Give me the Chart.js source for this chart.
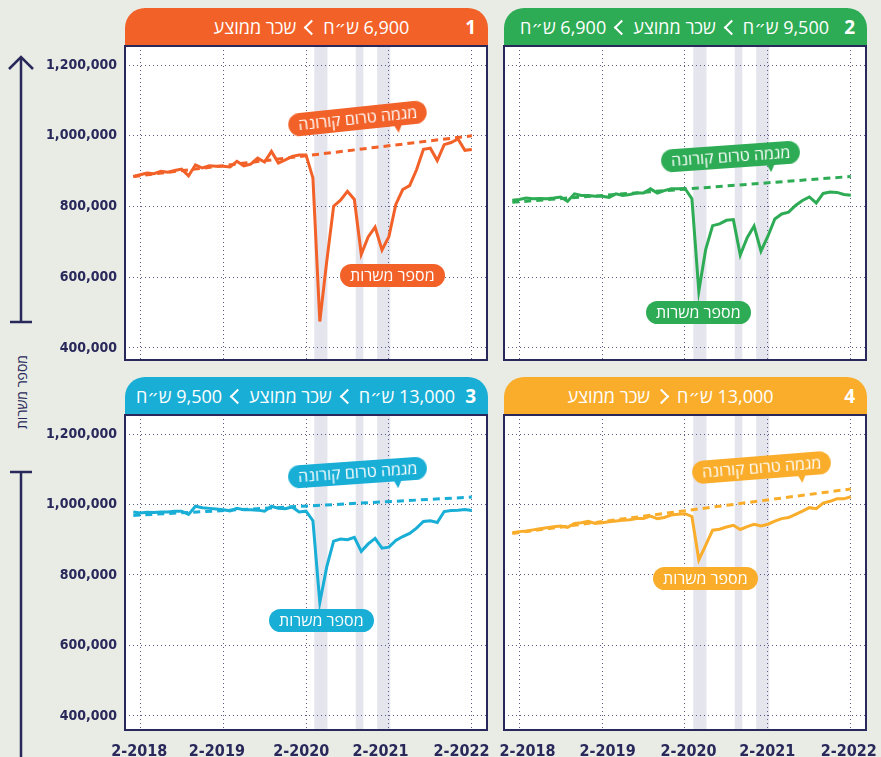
<!DOCTYPE html>
<html lang="he">
<head>
<meta charset="UTF-8">
<title>מספר משרות לפי שכר ממוצע</title>
<script src="https://cdn.jsdelivr.net/npm/chart.js"></script>
<style>
    body { margin: 0; background: #e9ebe5; font-family: "Open Sans", "DejaVu Sans", sans-serif; overflow: hidden; }
    #page { position: relative; width: 881px; height: 757px; }
    canvas { position: absolute; }
    .head { position: absolute; height: 38px; color: #fff; border-radius: 20px 20px 0 0; box-sizing: border-box;
            display: flex; align-items: center; justify-content: center; font-size: 18px; white-space: nowrap; }
    .head .num { position: absolute; right: 12px; font-weight: bold; font-size: 19px; }
    .head span { margin: 0 2px; }
    .chev { display: inline-block; width: 9px; height: 9px; border-left: 2.5px solid #fff; border-bottom: 2.5px solid #fff;
            transform: rotate(45deg); margin: 0 4px 0 8px; }
    .chev.r { transform: rotate(-135deg); margin: 0 8px 0 4px; }
    .pill { position: absolute; color: #fff; font-size: 16px; border-radius: 12px; padding: 0 10px; height: 23px;
            line-height: 23px; white-space: nowrap; }
    .pill.tip::after { content: ""; position: absolute; right: 26px; bottom: -7px; border-left: 4px solid transparent;
            border-right: 4px solid transparent; border-top: 8px solid var(--c); }
    .vlabel { position: absolute; left: 21px; top: 392px; transform: translate(-50%, -50%) rotate(-90deg);
              color: #28285a; font-size: 14px; white-space: nowrap; }
</style>
</head>
<body>
<div id="page">
    <svg style="position:absolute;left:0;top:0" width="45" height="757">
        <g stroke="#28285a" stroke-width="2.5" fill="none">
            <polyline points="9,69 21,57 33,69"/>
            <line x1="21" y1="57" x2="21" y2="322"/>
            <line x1="10" y1="322" x2="32" y2="322"/>
            <line x1="10" y1="472" x2="32" y2="472"/>
            <line x1="21" y1="472" x2="21" y2="757"/>
        </g>
    </svg>
    <div class="vlabel" dir="rtl">מספר משרות</div>

    <!-- headers -->
    <div class="head" style="left:125px;top:8px;width:363px;background:#f26128;padding-left:10px">
        <span dir="rtl">שכר ממוצע</span><i class="chev"></i><span dir="rtl">6,900 ש״ח</span>
        <b class="num">1</b>
    </div>
    <div class="head" style="left:504px;top:8px;width:363px;background:#2eac55;padding-right:22px">
        <span dir="rtl">6,900 ש״ח</span><i class="chev"></i><span dir="rtl">שכר ממוצע</span><i class="chev"></i><span dir="rtl">9,500 ש״ח</span>
        <b class="num">2</b>
    </div>
    <div class="head" style="left:125px;top:377px;width:363px;background:#18aed6;padding-right:22px">
        <span dir="rtl">9,500 ש״ח</span><i class="chev"></i><span dir="rtl">שכר ממוצע</span><i class="chev"></i><span dir="rtl">13,000 ש״ח</span>
        <b class="num">3</b>
    </div>
    <div class="head" style="left:504px;top:377px;width:363px;background:#f9ad2b;padding-right:30px">
        <span dir="rtl">שכר ממוצע</span><i class="chev r"></i><span dir="rtl">13,000 ש״ח</span>
        <b class="num">4</b>
    </div>

    <canvas id="c1" width="495" height="330" style="left:0;top:40px"></canvas>
    <canvas id="c2" width="391" height="330" style="left:490px;top:40px"></canvas>
    <canvas id="c3" width="500" height="348" style="left:0;top:409px"></canvas>
    <canvas id="c4" width="391" height="348" style="left:490px;top:409px"></canvas>

    <!-- callouts -->
    <div class="pill tip" style="--c:#f26128;background:#f26128;left:288px;top:107px;transform:rotate(-6deg)" dir="rtl">מגמה טרום קורונה</div>
    <div class="pill" style="background:#f26128;left:340px;top:264px" dir="rtl">מספר משרות</div>
    <div class="pill tip" style="--c:#2eac55;background:#2eac55;left:661px;top:145px;transform:rotate(-4deg)" dir="rtl">מגמה טרום קורונה</div>
    <div class="pill" style="background:#2eac55;left:646px;top:301px" dir="rtl">מספר משרות</div>
    <div class="pill tip" style="--c:#18aed6;background:#18aed6;left:288px;top:461px;transform:rotate(-4deg)" dir="rtl">מגמה טרום קורונה</div>
    <div class="pill" style="background:#18aed6;left:269px;top:609px" dir="rtl">מספר משרות</div>
    <div class="pill tip" style="--c:#f9ad2b;background:#f9ad2b;left:692px;top:456px;transform:rotate(-4.5deg)" dir="rtl">מגמה טרום קורונה</div>
    <div class="pill" style="background:#f9ad2b;left:653px;top:567px" dir="rtl">מספר משרות</div>
</div>
<script>
    // month index 0 = 1-2018 ... 49 = 2-2022
    const jobs1 = [885000, 890000, 895000, 893000, 900000, 897000, 902000, 906000, 887000, 918000,
                   909000, 915000, 914000, 914000, 912000, 928000, 915000, 920000, 937000, 926000,
                   956000, 923000, 932000, 942000, 946000, 946000, 881000, 475000, 645000, 801000,
                   818000, 843000, 820000, 665000, 714000, 742000, 677000, 715000, 806000, 848000,
                   859000, 904000, 962000, 965000, 930000, 975000, 981000, 991000, 959000, 961000];
    const jobs2 = [818000, 820000, 824000, 822000, 823000, 822000, 824000, 827000, 815000, 836000,
                   831000, 831000, 829000, 829000, 826000, 836000, 831000, 834000, 838000, 838000,
                   850000, 838000, 845000, 850000, 850000, 851000, 822000, 561000, 679000, 746000,
                   751000, 761000, 763000, 663000, 712000, 745000, 674000, 716000, 765000, 779000,
                   784000, 803000, 817000, 827000, 810000, 837000, 841000, 840000, 834000, 832000];
    const jobs3 = [979000, 976000, 978000, 977000, 979000, 979000, 981000, 981000, 972000, 995000,
                   991000, 989000, 987000, 985000, 982000, 989000, 985000, 985000, 984000, 981000,
                   995000, 989000, 988000, 993000, 979000, 981000, 954000, 722000, 823000, 896000,
                   902000, 900000, 907000, 867000, 888000, 904000, 876000, 879000, 898000, 909000,
                   918000, 933000, 952000, 954000, 949000, 980000, 983000, 984000, 986000, 983000];
    const jobs4 = [920000, 923000, 925000, 928000, 931000, 934000, 937000, 939000, 935000, 946000,
                   948000, 952000, 946000, 948000, 951000, 953000, 955000, 957000, 960000, 960000,
                   967000, 960000, 963000, 970000, 972000, 974000, 966000, 843000, 885000, 927000,
                   930000, 936000, 941000, 929000, 937000, 944000, 939000, 944000, 953000, 960000,
                   963000, 972000, 981000, 991000, 988000, 1004000, 1009000, 1016000, 1016000, 1022000];

    // pre-covid trend, first and last month
    const trendMonths = [0, 49];
    const trend1 = [885000, 1000000];
    const trend2 = [812000, 885000];
    const trend3 = [969000, 1021000];
    const trend4 = [918000, 1044000];

    // lockdown periods (month index)
    const lockStart = [26.2, 32.2, 35.3];
    const lockEnd = [28.1, 33.3, 37.2];

    const yTicks = [400000, 600000, 800000, 1000000, 1200000];
    const gridMonths = [1, 13, 25, 37, 49];
    const xLabels = ['2-2018', '2-2019', '2-2020', '2-2021', '2-2022'];
    const labelMonthsLeft = [0.85, 12.1, 24.3, 35.8, 47.5];
    const labelMonthsRight = [2.2, 13.8, 25.5, 36.9, 48.7];

    const navy = '#28285a';
    const gridColor = '#5c5c8c';

    const framePlugin = {
        id: 'frame',
        beforeDraw(chart) {
            const { ctx, chartArea: a } = chart;
            const xs = chart.scales.x;
            ctx.save();
            ctx.fillStyle = '#fff';
            ctx.fillRect(a.left, a.top, a.width, a.height);
            ctx.fillStyle = '#e5e5ee';
            lockStart.forEach((s, i) => {
                const x0 = xs.getPixelForValue(s);
                const x1 = xs.getPixelForValue(lockEnd[i]);
                ctx.fillRect(x0, a.top, x1 - x0, a.height);
            });
            ctx.restore();
        },
        afterDraw(chart) {
            const { ctx, chartArea: a } = chart;
            ctx.save();
            ctx.strokeStyle = navy;
            ctx.lineWidth = 2;
            ctx.strokeRect(a.left, a.top, a.width, a.height);
            ctx.restore();
        }
    };

    function makePanel(id, jobs, trend, color, o) {
        new Chart(document.getElementById(id), {
            type: 'line',
            data: {
                datasets: [
                    {
                        data: jobs.map((v, i) => ({ x: i, y: v })),
                        borderColor: color, borderWidth: 3, pointRadius: 0, tension: 0, order: 1
                    },
                    {
                        data: trendMonths.map((m, i) => ({ x: m, y: trend[i] })),
                        borderColor: color, borderWidth: 3, borderDash: [7, 5], pointRadius: 0, order: 2
                    }
                ]
            },
            options: {
                responsive: false,
                animation: false,
                layout: { padding: o.pad },
                plugins: { legend: { display: false }, tooltip: { enabled: false } },
                scales: {
                    x: {
                        type: 'linear', min: -1.2, max: 51.2,
                        afterBuildTicks: s => { s.ticks = gridMonths.map(v => ({ value: v })); },
                        afterFit: s => { s.height = 0; s.paddingLeft = 0; s.paddingRight = 0; },
                        ticks: { display: false },
                        grid: { color: gridColor, lineWidth: 1, drawTicks: false },
                        border: { display: false, dash: [1, 3] }
                    },
                    x2: {
                        type: 'linear', position: 'bottom', min: -1.2, max: 51.2,
                        display: o.showX,
                        afterBuildTicks: s => { s.ticks = o.labelMonths.map(v => ({ value: v })); },
                        afterFit: s => { s.height = o.showX ? 27 : 0; s.paddingLeft = 0; s.paddingRight = 0; },
                        ticks: {
                            autoSkip: false, maxRotation: 0, padding: 4, color: navy,
                            font: { family: '"DejaVu Sans Condensed", "DejaVu Sans"', weight: 'bold', size: 16 },
                            callback: (v, i) => xLabels[i]
                        },
                        grid: { display: false },
                        border: { display: false }
                    },
                    y: {
                        min: o.yMin, max: 1254000,
                        afterBuildTicks: s => { s.ticks = yTicks.map(v => ({ value: v })); },
                        afterFit: s => { s.width = o.showY ? 125 : 0; s.paddingTop = 0; s.paddingBottom = 0; },
                        ticks: {
                            display: o.showY, padding: 8, color: navy,
                            font: { family: '"DejaVu Sans Condensed", "DejaVu Sans"', weight: 'bold', size: 14 },
                            callback: v => v.toLocaleString('en-US')
                        },
                        grid: { color: gridColor, lineWidth: 1, drawTicks: false },
                        border: { display: false, dash: [1, 3] }
                    }
                }
            },
            plugins: [framePlugin]
        });
    }

    makePanel('c1', jobs1, trend1, '#f26128',
        { showY: true, showX: false, yMin: 366000, labelMonths: labelMonthsLeft, pad: { top: 6, right: 8, bottom: 10, left: 0 } });
    makePanel('c2', jobs2, trend2, '#2eac55',
        { showY: false, showX: false, yMin: 366000, labelMonths: labelMonthsRight, pad: { top: 6, right: 15, bottom: 10, left: 14 } });
    makePanel('c3', jobs3, trend3, '#18aed6',
        { showY: true, showX: true, yMin: 360000, labelMonths: labelMonthsLeft, pad: { top: 6, right: 13, bottom: 0, left: 0 } });
    makePanel('c4', jobs4, trend4, '#f9ad2b',
        { showY: false, showX: true, yMin: 360000, labelMonths: labelMonthsRight, pad: { top: 6, right: 15, bottom: 0, left: 14 } });
</script>
</body>
</html>
